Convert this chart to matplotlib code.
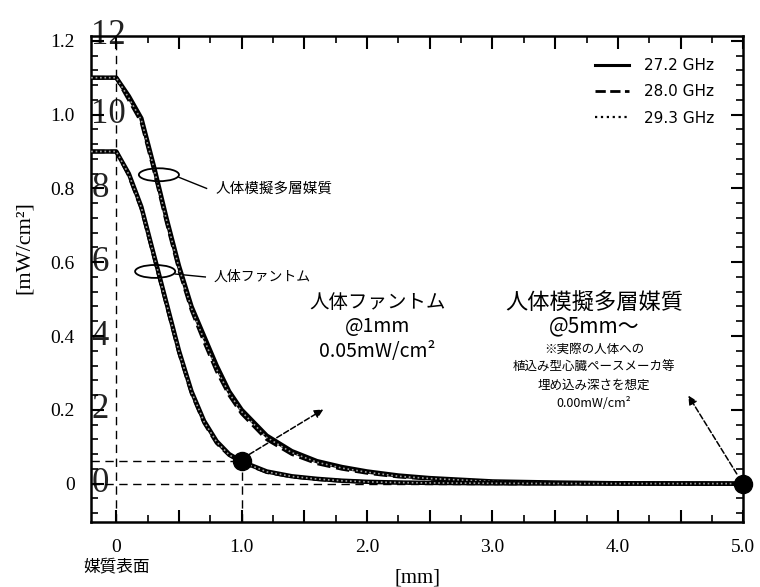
import matplotlib
matplotlib.use('Agg')
import matplotlib.pyplot as plt
from matplotlib.patches import Ellipse
from matplotlib.lines import Line2D
from matplotlib.ticker import MultipleLocator, FuncFormatter

# depth [mm] and power density [mW/cm2]
depth = [-0.2, 0.0, 0.1, 0.2, 0.3, 0.4, 0.5, 0.6, 0.7, 0.8, 0.9, 1.0,
         1.2, 1.4, 1.6, 1.8, 2.0, 2.25, 2.5, 3.0, 3.5, 4.0, 4.5, 5.0]

multi_272 = [1.10, 1.10, 1.05, 0.99, 0.86, 0.72, 0.59, 0.48, 0.40, 0.32, 0.25, 0.20,
             0.13, 0.088, 0.061, 0.045, 0.033, 0.022, 0.015, 0.006, 0.003, 0.001, 0.0005, 0.0]
multi_280 = [1.10, 1.10, 1.04, 0.98, 0.85, 0.71, 0.58, 0.47, 0.385, 0.305, 0.24, 0.19,
             0.12, 0.080, 0.055, 0.040, 0.029, 0.019, 0.013, 0.005, 0.002, 0.001, 0.0004, 0.0]
multi_293 = [1.10, 1.10, 1.045, 0.985, 0.855, 0.715, 0.585, 0.475, 0.39, 0.31, 0.245, 0.195,
             0.125, 0.084, 0.058, 0.042, 0.031, 0.020, 0.014, 0.0055, 0.0025, 0.001, 0.0004, 0.0]

phantom_272 = [0.90, 0.90, 0.84, 0.75, 0.62, 0.49, 0.36, 0.25, 0.17, 0.115, 0.08, 0.06,
               0.033, 0.020, 0.013, 0.008, 0.005, 0.003, 0.002, 0.001, 0.0005, 0.0002, 0.0001, 0.0]
phantom_280 = [0.90, 0.90, 0.835, 0.745, 0.615, 0.485, 0.355, 0.245, 0.165, 0.11, 0.077, 0.058,
               0.031, 0.019, 0.012, 0.0075, 0.0045, 0.0028, 0.0018, 0.0008, 0.0004, 0.0002, 0.0001, 0.0]
phantom_293 = [0.90, 0.90, 0.838, 0.748, 0.618, 0.488, 0.358, 0.248, 0.168, 0.113, 0.078, 0.059,
               0.032, 0.0195, 0.0125, 0.0078, 0.0048, 0.0029, 0.0019, 0.0009, 0.0004, 0.0002, 0.0001, 0.0]

freq_labels = ['27.2 GHz', '28.0 GHz', '29.3 GHz']
point_x = [1.0, 5.0]
point_y = [0.06, 0.0]
ghost_vals = [0.0, 0.2, 0.4, 0.6, 0.8, 1.0, 1.215]
ghost_text = ['0', '2', '4', '6', '8', '10', '12']

jp = ['Noto Sans CJK JP', 'DejaVu Sans']
serif = 'Liberation Serif'

fig = plt.figure(figsize=(7.6, 5.87), dpi=100)
ax = fig.add_axes([0.120, 0.1107, 0.858, 0.828])
ax.set_xlim(-0.2, 5.0)
ax.set_ylim(-0.104, 1.213)

# leftover tick numbers of an older scale printed over the left spine
for v, t in zip(ghost_vals, ghost_text):
    ax.text(-0.2, v, t, ha='left', va='center', fontsize=25, family=serif,
            color='#222222', zorder=1, clip_on=False)

# dashed guide lines
dash = (0, (6, 4))
ax.plot([0, 0], [-0.104, 1.213], color='k', lw=1, ls=dash)
ax.plot([-0.2, 5.0], [0, 0], color='k', lw=1, ls=dash)
ax.plot([-0.2, point_x[0]], [point_y[0], point_y[0]], color='k', lw=1, ls=dash)
ax.plot([point_x[0], point_x[0]], [-0.104, point_y[0]], color='k', lw=1, ls=dash)

styles = ['-', '--', ':']
widths = [3.2, 2.6, 1.2]
colors = ['k', 'k', '#a0a0a0']
for group in ([multi_272, multi_280, multi_293], [phantom_272, phantom_280, phantom_293]):
    for ys, st, w, c in zip(group, styles, widths, colors):
        ax.plot(depth, ys, color=c, ls=st, lw=w, zorder=3)

ax.plot(point_x, point_y, 'o', color='k', ms=13, clip_on=False, zorder=6)

# arrows to the annotations
ax.annotate('', xy=(1.67, 0.205), xytext=(1.04, 0.075),
            arrowprops=dict(arrowstyle='-|>', ls='--', lw=1.1, color='k', mutation_scale=13))
ax.annotate('', xy=(4.55, 0.245), xytext=(4.96, 0.02),
            arrowprops=dict(arrowstyle='-|>', ls='--', lw=1.1, color='k', mutation_scale=13))

# ellipses marking the two curve groups
ax.add_patch(Ellipse((0.34, 0.837), 0.32, 0.035, fill=False, lw=1.3, color='k', zorder=4))
ax.plot([0.50, 0.72], [0.83, 0.80], color='k', lw=1)
ax.text(0.79, 0.80, '人体模擬多層媒質', family=jp, fontsize=10.5, va='center', ha='left')
ax.add_patch(Ellipse((0.31, 0.575), 0.32, 0.035, fill=False, lw=1.3, color='k', zorder=4))
ax.plot([0.47, 0.71], [0.568, 0.56], color='k', lw=1)
ax.text(0.775, 0.56, '人体ファントム', family=jp, fontsize=10, va='center', ha='left')

# annotation blocks
ax.text(2.08, 0.492, '人体ファントム', family=jp, fontsize=14, ha='center', va='center')
ax.text(2.08, 0.425, '@1mm', family=jp, fontsize=14, ha='center', va='center')
ax.text(2.08, 0.358, '0.05mW/cm²', family=jp, fontsize=14, ha='center', va='center')

ax.text(3.81, 0.492, '人体模擬多層媒質', family=jp, fontsize=16, ha='center', va='center')
ax.text(3.81, 0.425, '@5mm〜', family=jp, fontsize=15, ha='center', va='center')
small = ['※実際の人体への', '植込み型心臓ペースメーカ等', '埋め込み深さを想定', '0.00mW/cm²']
for i, s in enumerate(small):
    ax.text(3.81, 0.365 - i * 0.049, s, family=jp, fontsize=9, ha='center', va='center')

proxies = [Line2D([], [], color='k', ls=st, lw=w) for st, w in zip(styles, [2.2, 2.0, 1.6])]
ax.legend(proxies, freq_labels, loc='upper left', bbox_to_anchor=(0.773, 0.955),
          frameon=False, borderpad=0, borderaxespad=0, handlelength=2.2,
          handletextpad=1.0, labelspacing=0.75, prop={'family': 'DejaVu Sans', 'size': 11})

# ticks
ax.xaxis.set_major_locator(MultipleLocator(0.5))
ax.xaxis.set_minor_locator(MultipleLocator(0.25))
ax.yaxis.set_major_locator(MultipleLocator(0.2))
ax.yaxis.set_minor_locator(MultipleLocator(0.04))

def xfmt(v, pos):
    if abs(v - round(v)) > 1e-6:
        return ''
    return '0' if abs(v) < 1e-6 else '%.1f' % v

def yfmt(v, pos):
    return '0' if abs(v) < 1e-6 else '%.1f' % v

ax.xaxis.set_major_formatter(FuncFormatter(xfmt))
ax.yaxis.set_major_formatter(FuncFormatter(yfmt))
ax.tick_params(which='both', direction='in', top=True, right=True)
ax.tick_params(which='major', length=9, width=1.5, labelsize=14, pad=12)
ax.tick_params(which='minor', length=5, width=1.2)
for lbl in ax.get_xticklabels() + ax.get_yticklabels():
    lbl.set_family(serif)
for sp in ax.spines.values():
    sp.set_linewidth(1.8)

ax.text(0.0, -0.225, '媒質表面', family=jp, fontsize=12, ha='center', va='center', clip_on=False)
ax.set_xlabel('[mm]', family=serif, fontsize=15, labelpad=9)
fig.text(0.032, 0.578, '[mW/cm²]', family=serif, fontsize=16, rotation=90, ha='center', va='center')

fig.savefig('out.png', dpi=100, facecolor='white')
